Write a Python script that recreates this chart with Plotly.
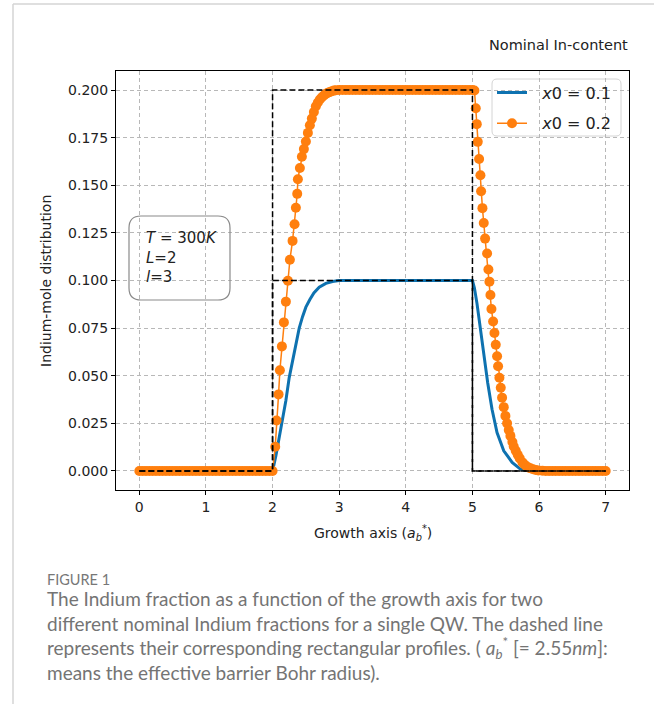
import plotly.graph_objects as go

# ---------------- data ----------------
blue_x = [0.0, 2.0, 2.05, 2.10, 2.14, 2.20, 2.25, 2.30, 2.35, 2.40, 2.45, 2.50, 2.56,
          2.62, 2.70, 2.80, 2.90, 3.00, 5.00, 5.03, 5.068, 5.118, 5.168, 5.229,
          5.294, 5.369, 5.47, 5.596, 5.72, 5.90, 7.00]
blue_y = [0.0, 0.0, 0.008, 0.017, 0.025, 0.037, 0.049, 0.058, 0.067, 0.075, 0.081, 0.086, 0.090,
          0.0935, 0.0965, 0.0985, 0.0995, 0.1, 0.1, 0.096, 0.088, 0.0741, 0.0602, 0.0463,
          0.0324, 0.0202, 0.0106, 0.0045, 0.001, 0.0, 0.0]

orange_left_x = [0.00, 0.05, 0.10, 0.15, 0.20, 0.25, 0.30, 0.35, 0.40, 0.45,
                 0.50, 0.55, 0.60, 0.65, 0.70, 0.75, 0.80, 0.85, 0.90, 0.95,
                 1.00, 1.05, 1.10, 1.15, 1.20, 1.25, 1.30, 1.35, 1.40, 1.45,
                 1.50, 1.55, 1.60, 1.65, 1.70, 1.75, 1.80, 1.85, 1.90, 1.95,
                 2.00]
orange_left_y = [0.0, 0.0, 0.0, 0.0, 0.0, 0.0, 0.0, 0.0, 0.0, 0.0,
                 0.0, 0.0, 0.0, 0.0, 0.0, 0.0, 0.0, 0.0, 0.0, 0.0,
                 0.0, 0.0, 0.0, 0.0, 0.0, 0.0, 0.0, 0.0, 0.0, 0.0,
                 0.0, 0.0, 0.0, 0.0, 0.0, 0.0, 0.0, 0.0, 0.0, 0.0,
                 0.0]
orange_rise_x = [2.04, 2.06, 2.09, 2.11, 2.14, 2.17, 2.20, 2.23, 2.26, 2.30,
                 2.33, 2.35, 2.37, 2.38, 2.41, 2.44, 2.47, 2.50, 2.53, 2.56,
                 2.59, 2.62, 2.65, 2.68, 2.71, 2.74, 2.77, 2.80, 2.83, 2.86,
                 2.89, 2.92, 2.95]
orange_rise_y = [0.0127, 0.0265, 0.0402, 0.0529, 0.0654, 0.0780, 0.0889, 0.0999, 0.1109, 0.1208,
                 0.1295, 0.1382, 0.1455, 0.1532, 0.1591, 0.1650, 0.1690, 0.1730, 0.1775, 0.1815,
                 0.1850, 0.1885, 0.1915, 0.1935, 0.1950, 0.1962, 0.1971, 0.1980, 0.1986, 0.1990,
                 0.1994, 0.1997, 0.1999]
orange_top_x = [3.00, 3.05, 3.10, 3.15, 3.20, 3.25, 3.30, 3.35, 3.40, 3.45,
                3.50, 3.55, 3.60, 3.65, 3.70, 3.75, 3.80, 3.85, 3.90, 3.95,
                4.00, 4.05, 4.10, 4.15, 4.20, 4.25, 4.30, 4.35, 4.40, 4.45,
                4.50, 4.55, 4.60, 4.65, 4.70, 4.75, 4.80, 4.85, 4.90, 4.95,
                5.00]
orange_top_y = [0.2, 0.2, 0.2, 0.2, 0.2, 0.2, 0.2, 0.2, 0.2, 0.2,
                0.2, 0.2, 0.2, 0.2, 0.2, 0.2, 0.2, 0.2, 0.2, 0.2,
                0.2, 0.2, 0.2, 0.2, 0.2, 0.2, 0.2, 0.2, 0.2, 0.2,
                0.2, 0.2, 0.2, 0.2, 0.2, 0.2, 0.2, 0.2, 0.2, 0.2,
                0.2]
orange_fall_x = [5.03, 5.05, 5.065, 5.08, 5.10, 5.12, 5.13, 5.15, 5.17, 5.19,
                 5.22, 5.24, 5.255, 5.27, 5.285, 5.31, 5.33, 5.35, 5.37, 5.385,
                 5.405, 5.425, 5.445, 5.47, 5.495, 5.52, 5.545, 5.57, 5.60, 5.62,
                 5.65, 5.68, 5.71, 5.75, 5.78, 5.81, 5.84, 5.87, 5.91, 5.95,
                 5.99]
orange_fall_y = [0.1998, 0.1904, 0.1821, 0.1728, 0.1638, 0.1553, 0.1469, 0.1380, 0.1302, 0.1220,
                 0.1142, 0.1058, 0.0994, 0.0924, 0.0850, 0.0785, 0.0724, 0.0663, 0.0602, 0.0550,
                 0.0489, 0.0437, 0.0385, 0.0335, 0.0289, 0.0250, 0.0215, 0.0184, 0.0152, 0.0128,
                 0.0106, 0.0085, 0.0066, 0.0045, 0.0034, 0.0025, 0.0018, 0.0014, 0.0009, 0.0005,
                 0.0003]
orange_right_x = [6.05, 6.10, 6.15, 6.20, 6.25, 6.30, 6.35, 6.40, 6.45, 6.50,
                  6.55, 6.60, 6.65, 6.70, 6.75, 6.80, 6.85, 6.90, 6.95, 7.00]
orange_right_y = [0.0001, 0.0, 0.0, 0.0, 0.0, 0.0, 0.0, 0.0, 0.0, 0.0,
                  0.0, 0.0, 0.0, 0.0, 0.0, 0.0, 0.0, 0.0, 0.0, 0.0]

rect_x = [0, 2, 2, 5, 5, 7]
rect_low_y = [0, 0, 0.1, 0.1, 0, 0]
rect_high_y = [0, 0, 0.2, 0.2, 0, 0]

x_ticks = [0, 1, 2, 3, 4, 5, 6, 7]
y_ticks = [0.0, 0.025, 0.05, 0.075, 0.1, 0.125, 0.15, 0.175, 0.2]
y_tick_labels = ["0.000", "0.025", "0.050", "0.075", "0.100", "0.125", "0.150", "0.175", "0.200"]

series_names = ["&nbsp;&nbsp;<i>x</i>0 = 0.1", "&nbsp;&nbsp;<i>x</i>0 = 0.2"]

caption_lines = [
    "The Indium fraction as a function of the growth axis for two",
    "different nominal Indium fractions for a single QW. The dashed line",
    "represents their corresponding rectangular profiles. ( <i>a</i><sub><i>b</i></sub><sup>*</sup> [= 2.55<i>nm</i>]:",
    "means the effective barrier Bohr radius).",
]

# ---------------- figure ----------------
W, H = 654, 704
ML, MR, MT, MB = 116, 25, 71, 214
PW = W - ML - MR
PH = H - MT - MB


def px(x):
    return (x - ML) / PW


def py(y):
    return (H - MB - y) / PH


orange_x = orange_left_x + orange_rise_x + orange_top_x + orange_fall_x + orange_right_x
orange_y = orange_left_y + orange_rise_y + orange_top_y + orange_fall_y + orange_right_y

BLUE = "#0e72b0"
ORANGE = "#ff7f0e"
FONT = "DejaVu Sans"
TXT = "#222222"

fig = go.Figure()
fig.add_trace(go.Scatter(x=blue_x, y=blue_y, mode="lines", name=series_names[0],
                         legendgroup="a", line=dict(color=BLUE, width=3)))
fig.add_trace(go.Scatter(x=orange_x, y=orange_y, mode="lines+markers", name=series_names[1],
                         legendgroup="b", line=dict(color=ORANGE, width=1.5),
                         marker=dict(color=ORANGE, size=10, line=dict(width=0))))
for ry in (rect_low_y, rect_high_y):
    fig.add_trace(go.Scatter(x=rect_x, y=ry, mode="lines", showlegend=False,
                             line=dict(color="black", width=1.5, dash="6px,3px")))

axis_common = dict(showline=True, mirror=True, linecolor="black", linewidth=1,
                   ticks="outside", ticklen=4, tickcolor="black", tickwidth=1,
                   showgrid=True, gridcolor="#b8b8b8", gridwidth=1, griddash="4px,3px",
                   zeroline=False, tickfont=dict(family=FONT, size=14, color=TXT))

fig.update_xaxes(range=[-0.35, 7.35], tickvals=x_ticks, **axis_common)
fig.update_yaxes(range=[-0.01, 0.21], tickvals=y_ticks, ticktext=y_tick_labels, **axis_common)


def rounded(x0, y0, x1, y1, r):
    rx = r / PW
    ry = r / PH
    return (f"M {x0+rx},{y0} L {x1-rx},{y0} Q {x1},{y0} {x1},{y0+ry} "
            f"L {x1},{y1-ry} Q {x1},{y1} {x1-rx},{y1} L {x0+rx},{y1} "
            f"Q {x0},{y1} {x0},{y1-ry} L {x0},{y0+ry} Q {x0},{y0} {x0+rx},{y0} Z")


shapes = [
    dict(type="path", xref="paper", yref="paper",
         path=rounded(px(492), py(136), px(621), py(79), 5),
         line=dict(color="#d4d4d4", width=1), fillcolor="rgba(255,255,255,0.8)", layer="below"),
    dict(type="path", xref="paper", yref="paper",
         path=rounded(px(129), py(300), px(230), py(216), 12),
         line=dict(color="#8a8a8a", width=1.2), fillcolor="rgba(255,255,255,0)", layer="above"),
    dict(type="line", xref="paper", yref="paper", x0=px(13), x1=px(13), y0=py(4), y1=py(710),
         line=dict(color="#d4d4d4", width=1.5)),
    dict(type="line", xref="paper", yref="paper", x0=px(13), x1=px(660), y0=py(4), y1=py(4),
         line=dict(color="#d4d4d4", width=1.5)),
]

annotations = [
    dict(text="Nominal In-content", xref="paper", yref="paper", x=px(630), y=py(45),
         xanchor="right", yanchor="middle", showarrow=False,
         font=dict(family=FONT, size=14.5, color=TXT)),
    dict(text="Growth axis (<i>a</i><sub><i>b</i></sub><sup>*</sup>)", xref="paper", yref="paper",
         x=px(373), y=py(533), xanchor="center", yanchor="middle", showarrow=False,
         font=dict(family=FONT, size=14, color=TXT)),
    dict(text="Indium-mole distribution", xref="paper", yref="paper", x=px(46), y=py(281),
         xanchor="center", yanchor="middle", textangle=-90, showarrow=False,
         font=dict(family=FONT, size=14, color=TXT)),
    dict(text="<i>T</i> = 300<i>K</i><br><i>L</i>=2<br><i>l</i>=3", xref="paper", yref="paper",
         x=px(144), y=py(257), xanchor="left", yanchor="middle", align="left", showarrow=False,
         font=dict(family=FONT, size=15, color=TXT)),
    dict(text="FIGURE 1", xref="paper", yref="paper", x=px(45), y=py(579),
         xanchor="left", yanchor="middle", showarrow=False,
         font=dict(family="Lato", size=14.5, color="#777777")),
    dict(text="<br>".join(caption_lines), xref="paper", yref="paper", x=px(45), y=py(635),
         xanchor="left", yanchor="middle", align="left", showarrow=False,
         font=dict(family="Lato", size=19, color="#747474")),
]

fig.update_layout(
    width=W, height=H,
    margin=dict(l=ML, r=MR, t=MT, b=MB),
    paper_bgcolor="white", plot_bgcolor="white",
    showlegend=True,
    legend=dict(x=px(492), y=py(75.5), xanchor="left", yanchor="top",
                bgcolor="rgba(0,0,0,0)", borderwidth=0, tracegroupgap=7,
                font=dict(family=FONT, size=16, color=TXT), itemwidth=30),
    shapes=shapes, annotations=annotations,
)

fig.write_html("out.html")
